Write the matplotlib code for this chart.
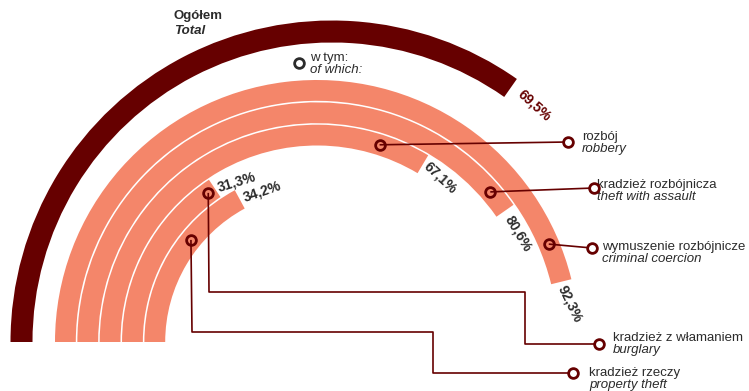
import numpy as np
import matplotlib
matplotlib.use("Agg")
import matplotlib.pyplot as plt
from matplotlib.patches import Wedge

plt.rcParams['font.family'] = ['Liberation Sans', 'DejaVu Sans']

# ---- data ----
total_label_pl = "Ogółem"
total_label_en = "Total"
total_value = 69.5

categories_pl = ["wymuszenie rozbójnicze", "kradzież rozbójnicza", "rozbój",
                 "kradzież z włamaniem", "kradzież rzeczy"]
categories_en = ["criminal coercion", "theft with assault", "robbery",
                 "burglary", "property theft"]
values = [92.3, 80.6, 67.1, 31.3, 34.2]   # outer ring -> inner ring

subheader_pl = "w tym:"
subheader_en = "of which:"

# ---- style / layout ----
DARK = "#660000"
SALMON = "#F4866A"
TXT = "#2b2b2b"

W, H = 749, 391
fig = plt.figure(figsize=(W / 100, H / 100), dpi=100)
ax = fig.add_axes([0, 0, 1, 1])
ax.set_xlim(0, W)
ax.set_ylim(H, 0)
ax.set_aspect('equal')
ax.axis('off')

def pt(c, r, a):
    """visual angle a (deg, counterclockwise on screen) -> pixel coords"""
    return c[0] + r * np.cos(np.radians(a)), c[1] - r * np.sin(np.radians(a))

def end_angle(v):
    return 180 - 180 * v / 100.0

# total ring
c_tot = (332, 342)
r_tot_out, r_tot_w = 321.5, 22
ax.add_patch(Wedge(c_tot, r_tot_out, 180, 180 + 180 * total_value / 100,
                   width=r_tot_w, facecolor=DARK, edgecolor='none'))

# sub rings
c = (317, 342)
r_outer0 = 262.0
pitch = 22.35
ring_w = 20.8
ring_mid = []
for i, v in enumerate(values):
    ro = r_outer0 - pitch * i
    ax.add_patch(Wedge(c, ro, 180, 180 + 180 * v / 100, width=ring_w,
                       facecolor=SALMON, edgecolor='none'))
    ring_mid.append(ro - ring_w / 2)

def fmt(v):
    return f"{v:.1f}%".replace('.', ',')

PCT_FS = 10
# percentage labels: (angle offset beyond end, radius, rotation)
x, y = pt(c_tot, 311, end_angle(total_value) - 5.5)
ax.text(x, y, fmt(total_value), color=DARK, fontsize=PCT_FS, fontweight='bold',
        rotation=-42, ha='center', va='center', rotation_mode='anchor')

lab_layout = [(5.4, 256, -64), (6.5, 228.4, -59), (6.1, 205.8, -43),
              (7.1, 178.7, 17), (8.4, 160.4, 19)]
for v, (off, r, rot) in zip(values, lab_layout):
    x, y = pt(c, r, end_angle(v) - off)
    ax.text(x, y, fmt(v), color=TXT, fontsize=PCT_FS, fontweight='bold',
            rotation=rot, ha='center', va='center', rotation_mode='anchor')

# markers on rings (visual angles) and leader paths
marker_angles = [22.9, 40.9, 72.4, 126.1, 141.0]
leader_paths = [
    [(592, 248)],
    [(594, 188)],
    [(568, 142)],
    [(209, 292), (525, 292), (525, 344), (599, 344)],
    [(192, 332), (433, 332), (433, 373), (573, 373)],
]
text_pos = [(602, 247), (597, 185), (582, 137), (613, 338), (589, 373)]

for i in range(len(values)):
    mx, my = pt(c, ring_mid[i], marker_angles[i])
    path = [(mx, my)] + leader_paths[i]
    xs = [p[0] for p in path]
    ys = [p[1] for p in path]
    ax.plot(xs, ys, color=DARK, lw=1.2, solid_capstyle='butt', zorder=3)
    ax.plot([mx], [my], 'o', ms=7, mfc='none', mec=DARK, mew=2.0, zorder=4)
    ax.plot([xs[-1]], [ys[-1]], 'o', ms=7, mfc='white', mec=DARK, mew=2.0, zorder=4)
    tx, ty = text_pos[i]
    ax.text(tx, ty, categories_pl[i], color=TXT, fontsize=9.5, ha='left', va='center')
    ax.text(tx, ty + 12, categories_en[i], color=TXT, fontsize=9.5, ha='left',
            va='center', style='italic')

# headers
ax.text(174, 16, total_label_pl, color=TXT, fontsize=9.5, fontweight='bold',
        ha='left', va='center')
ax.text(174, 31, total_label_en, color=TXT, fontsize=9.5, fontweight='bold',
        style='italic', ha='left', va='center')

ax.plot([299], [63], 'o', ms=7, mfc='white', mec='#2b2b2b', mew=2.0)
ax.text(310, 58, subheader_pl, color=TXT, fontsize=9.5, ha='left', va='center')
ax.text(310, 70, subheader_en, color=TXT, fontsize=9.5, ha='left', va='center',
        style='italic')

fig.savefig("out.png", dpi=100, facecolor='white')
